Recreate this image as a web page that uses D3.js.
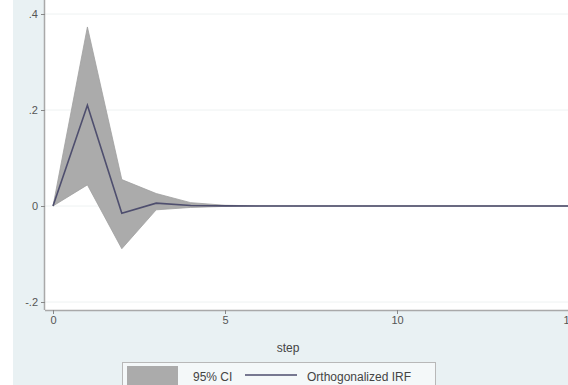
<!DOCTYPE html>
<html><head><meta charset="utf-8">
<script src="https://cdn.jsdelivr.net/npm/d3@7"></script>
<style>html,body{margin:0;padding:0;background:#fff;}svg{display:block;font-family:"Liberation Sans",Arial,sans-serif;}</style>
</head><body><svg id="c" width="568" height="385"></svg>
<script>
const steps = [0,1,2,3,4,5,6,7,8,9,10,11,12,13,14,15];
const irf   = [0,0.21,-0.015,0.006,0.001,0.0002,0,0,0,0,0,0,0,0,0,0];
const ciUpper = [0,0.373,0.055,0.026,0.007,0.0015,0.0003,0,0,0,0,0,0,0,0,0];
const ciLower = [0,0.044,-0.089,-0.008,-0.003,-0.0008,-0.0002,0,0,0,0,0,0,0,0,0];
const yTicks = [-0.2,0,0.2,0.4];
const yTickLabels = ["-.2","0",".2",".4"];
const xTicks = [0,5,10,15];
const xLabel = "step";
const legendLabels = ["95% CI","Orthogonalized IRF"];

const svg = d3.select("#c");
svg.append("rect").attr("x",13).attr("y",0).attr("width",555).attr("height",385).attr("fill","#e9f1f3");

const x = d3.scaleLinear().domain([0,15]).range([53,569]);
const y = d3.scaleLinear().domain([-0.2,0.4]).range([302,14]);
const plotL = 45, plotB = 310;
svg.append("rect").attr("x",plotL).attr("y",-5).attr("width",568-plotL+5).attr("height",plotB+5).attr("fill","#ffffff");

// gridlines
svg.append("g").selectAll("line").data(yTicks).join("line")
  .attr("x1",plotL).attr("x2",568).attr("y1",d=>y(d)).attr("y2",d=>y(d))
  .attr("stroke","#eef2f2").attr("stroke-width",1);

// CI area
const area = d3.area().x((d,i)=>x(steps[i])).y0((d,i)=>y(ciLower[i])).y1((d,i)=>y(ciUpper[i]));
svg.append("path").datum(steps).attr("d",area).attr("fill","#ababab").attr("stroke","#a0a0a0").attr("stroke-width",0.8);

// IRF line
const line = d3.line().x((d,i)=>x(steps[i])).y((d,i)=>y(irf[i]));
svg.append("path").datum(steps).attr("d",line).attr("fill","none").attr("stroke","#4e4e6e").attr("stroke-width",1.6);

// axes
const yAxis = d3.axisLeft(y).tickValues(yTicks).tickFormat((d,i)=>yTickLabels[i]).tickSize(4).tickPadding(3);
const gy = svg.append("g").attr("transform",`translate(${plotL},0)`).call(yAxis);
const xAxis = d3.axisBottom(x).tickValues(xTicks).tickSize(4).tickPadding(2);
const gx = svg.append("g").attr("transform",`translate(0,${plotB})`).call(xAxis);
[gx,gy].forEach(g=>{
  g.select(".domain").attr("stroke","#a9a9a9").attr("stroke-width",1.5);
  g.selectAll(".tick line").attr("stroke","#888");
  g.selectAll(".tick text").attr("fill","#555").attr("font-size",11).attr("font-family","Liberation Sans, Arial, sans-serif");
});
gx.select(".domain").attr("d",`M${plotL},0.5H568`);
gy.select(".domain").attr("d",`M-0.5,0V${plotB}`);

svg.append("text").attr("x",288).attr("y",352).attr("text-anchor","middle").attr("font-size",12).attr("fill","#444").text(xLabel);

// legend
const lg = svg.append("g");
lg.append("rect").attr("x",122.5).attr("y",362.5).attr("width",313).attr("height",30).attr("fill","#f4f8f9").attr("stroke","#b8b8b8");
lg.append("rect").attr("x",127).attr("y",366).attr("width",51).attr("height",19).attr("fill","#ababab");
lg.append("text").attr("x",193).attr("y",381).attr("font-size",12).attr("fill","#444").text(legendLabels[0]);
lg.append("line").attr("x1",245).attr("x2",297).attr("y1",375).attr("y2",375).attr("stroke","#4e4e6e").attr("stroke-width",1.6);
lg.append("text").attr("x",307).attr("y",381).attr("font-size",12).attr("fill","#444").text(legendLabels[1]);
</script></body></html>
